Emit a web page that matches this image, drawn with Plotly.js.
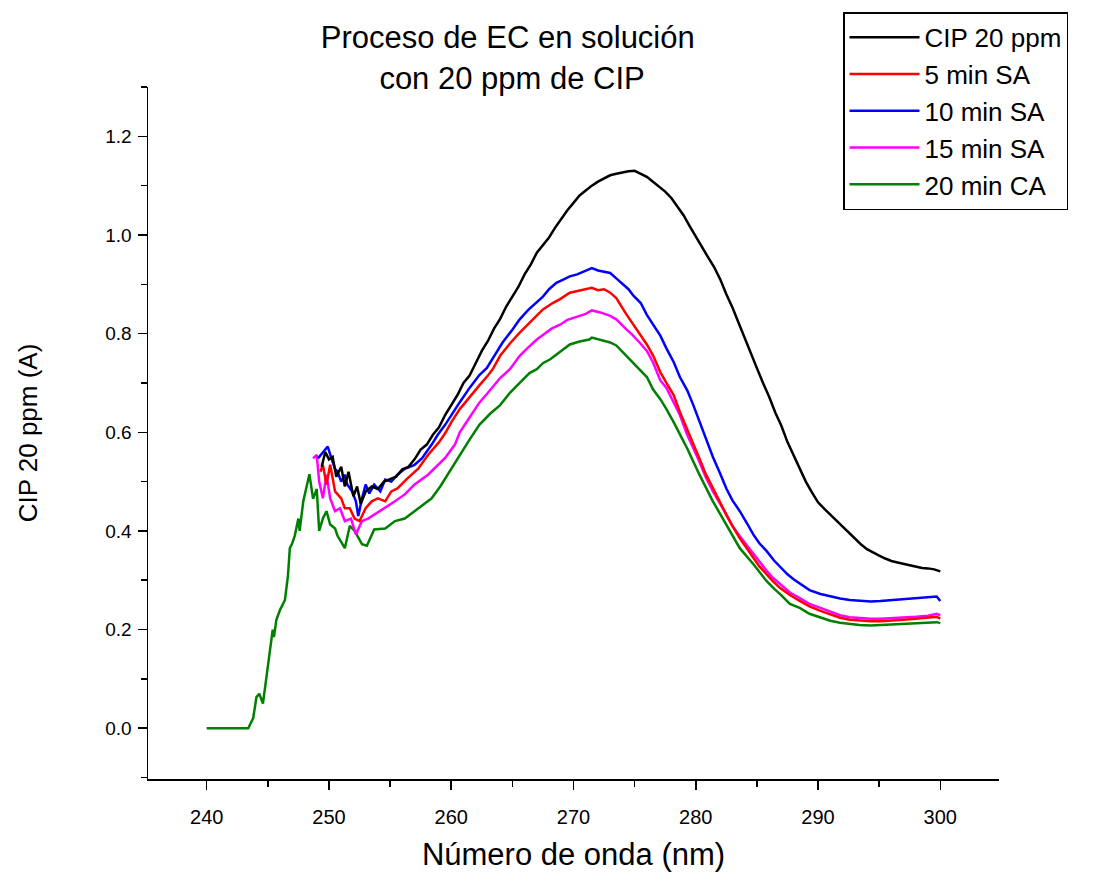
<!DOCTYPE html>
<html>
<head>
<meta charset="utf-8">
<script src="https://cdn.plot.ly/plotly-3.0.1.min.js"></script>
<style>html,body{margin:0;padding:0;background:#fff;}#chart{width:1116px;height:879px;}</style>
</head>
<body>
<div id="chart"></div>
<script>
// Series names
const seriesNames = ["CIP 20 ppm", "5 min SA", "10 min SA", "15 min SA", "20 min CA"];

// CIP 20 ppm (black)
const wlCIP = [249.4,249.7,250.0,250.3,250.6,251.0,251.3,251.6,252.0,252.3,252.6,253.0,253.5,254.0,254.5,255.0,255.5,256.0,256.5,257.0,257.5,258.0,258.5,259.0,259.5,260.0,260.5,261.0,261.5,262.0,262.5,263.0,263.5,264.0,264.5,265.0,265.5,266.0,266.5,267.0,267.5,268.0,268.5,269.0,269.5,270.0,270.5,271.0,271.5,272.0,272.5,273.0,273.5,274.0,274.5,275.0,275.5,276.0,276.5,277.0,277.5,278.0,278.5,279.0,279.5,280.0,280.5,281.0,281.5,282.0,282.5,283.0,283.5,284.0,284.5,285.0,285.5,286.0,286.5,287.0,287.5,288.0,288.5,289.0,289.5,290.0,290.5,291.0,291.5,292.0,292.5,293.0,293.5,294.0,294.5,295.0,295.5,296.0,296.5,297.0,297.5,298.0,298.5,299.0,299.5,300.0];
const absCIP = [0.53,0.56,0.545,0.55,0.51,0.53,0.49,0.52,0.47,0.49,0.455,0.48,0.49,0.485,0.50,0.505,0.51,0.525,0.53,0.545,0.565,0.575,0.595,0.61,0.635,0.655,0.675,0.70,0.715,0.74,0.765,0.785,0.81,0.83,0.855,0.875,0.895,0.92,0.94,0.964,0.98,0.995,1.015,1.033,1.05,1.065,1.08,1.09,1.10,1.108,1.115,1.121,1.124,1.127,1.129,1.13,1.124,1.118,1.108,1.098,1.088,1.075,1.058,1.04,1.018,0.996,0.976,0.955,0.935,0.91,0.88,0.853,0.822,0.79,0.76,0.73,0.70,0.672,0.64,0.613,0.58,0.553,0.526,0.50,0.478,0.458,0.445,0.433,0.42,0.408,0.395,0.384,0.373,0.363,0.356,0.35,0.344,0.339,0.336,0.333,0.33,0.327,0.325,0.324,0.322,0.318];

// 5 min SA (red)
const wl5 = [249.3,249.5,249.8,250.1,250.5,251.0,251.3,251.7,252.1,252.5,253.0,253.5,254.0,254.6,255.1,255.6,256.4,257.3,258.1,259.0,259.5,260.0,260.7,261.5,262.3,263.0,263.4,264.0,264.8,265.6,266.5,267.5,268.3,268.9,269.7,270.5,271.0,271.5,272.0,272.5,273.0,273.5,274.3,274.8,275.4,276.0,276.5,277.1,277.6,278.2,278.7,279.3,279.8,280.3,280.8,281.4,282.0,282.5,283.0,283.6,284.2,284.7,285.2,285.8,286.3,286.9,287.7,288.5,289.3,290.2,291.0,291.8,292.6,293.4,294.3,295.1,296.0,297.0,298.0,299.0,299.7,300.0];
const abs5 = [0.52,0.534,0.494,0.534,0.48,0.466,0.446,0.446,0.425,0.42,0.446,0.46,0.466,0.46,0.48,0.486,0.506,0.526,0.554,0.58,0.598,0.62,0.647,0.672,0.695,0.715,0.728,0.755,0.78,0.802,0.825,0.849,0.862,0.87,0.883,0.887,0.89,0.893,0.888,0.89,0.883,0.872,0.84,0.822,0.802,0.778,0.756,0.722,0.70,0.675,0.641,0.607,0.578,0.547,0.516,0.486,0.458,0.433,0.41,0.385,0.364,0.345,0.328,0.312,0.298,0.284,0.27,0.258,0.247,0.238,0.231,0.224,0.22,0.218,0.217,0.217,0.218,0.22,0.222,0.224,0.226,0.222];

// 10 min SA (blue)
const wl10 = [249.1,249.5,249.9,250.2,250.5,250.7,251.0,251.3,251.5,251.9,252.2,252.4,252.7,253.0,253.3,253.7,254.2,254.6,255.1,255.6,256.2,257.0,257.6,258.4,258.9,259.5,260.0,260.7,261.5,262.3,262.9,263.5,264.2,265.0,265.6,266.3,267.0,267.5,268.0,268.6,269.2,269.7,270.3,270.8,271.5,272.0,272.5,273.0,273.5,274.0,274.5,274.9,275.5,276.0,276.5,277.1,277.6,278.2,278.7,279.3,279.8,280.3,280.8,281.4,282.0,282.5,283.0,283.6,284.2,284.7,285.2,285.8,286.4,286.9,287.5,288.0,288.5,289.3,290.2,291.0,291.8,292.6,293.4,294.3,295.1,296.0,297.0,298.0,299.0,299.7,300.0];
const abs10 = [0.547,0.56,0.571,0.547,0.526,0.52,0.50,0.514,0.494,0.48,0.46,0.43,0.466,0.494,0.476,0.494,0.48,0.504,0.50,0.514,0.526,0.534,0.547,0.575,0.595,0.615,0.635,0.661,0.69,0.716,0.73,0.755,0.782,0.808,0.829,0.848,0.863,0.875,0.89,0.903,0.91,0.916,0.92,0.925,0.933,0.928,0.926,0.923,0.912,0.90,0.89,0.877,0.862,0.838,0.82,0.796,0.77,0.742,0.712,0.685,0.655,0.622,0.592,0.55,0.516,0.486,0.462,0.44,0.415,0.393,0.375,0.359,0.34,0.327,0.312,0.302,0.294,0.28,0.272,0.267,0.263,0.26,0.258,0.257,0.258,0.26,0.262,0.264,0.266,0.267,0.258];

// 15 min SA (magenta)
const wl15 = [248.7,249.0,249.2,249.5,249.8,250.1,250.5,250.9,251.3,251.8,252.2,252.7,253.2,253.7,254.6,255.4,256.2,257.0,258.1,259.0,259.5,260.3,260.7,261.5,262.3,263.0,264.0,264.8,265.6,266.3,267.0,267.5,268.2,268.9,269.5,270.5,271.0,271.5,272.2,273.0,273.5,274.3,274.8,275.4,276.0,276.5,277.1,277.6,278.2,278.7,279.3,279.8,280.3,280.8,281.4,282.0,282.5,283.0,283.6,284.2,284.7,285.2,285.8,286.3,286.9,287.7,288.5,289.3,290.2,291.0,291.8,292.6,293.4,294.3,295.1,296.0,297.0,298.0,299.0,299.7,300.0];
const abs15 = [0.547,0.554,0.50,0.466,0.514,0.466,0.44,0.446,0.42,0.425,0.393,0.42,0.425,0.433,0.446,0.46,0.474,0.494,0.514,0.535,0.548,0.575,0.60,0.63,0.66,0.68,0.71,0.728,0.755,0.772,0.788,0.797,0.81,0.818,0.828,0.836,0.84,0.847,0.843,0.836,0.829,0.809,0.798,0.782,0.765,0.742,0.705,0.69,0.661,0.635,0.595,0.568,0.54,0.51,0.48,0.455,0.433,0.41,0.389,0.37,0.353,0.336,0.319,0.305,0.292,0.275,0.264,0.252,0.244,0.236,0.229,0.225,0.223,0.222,0.222,0.223,0.224,0.226,0.228,0.232,0.229];

// 20 min CA (green)
const wl20 = [240.0,241.0,242.0,243.0,243.4,243.6,243.8,244.07,244.3,244.6,244.9,245.1,245.3,245.4,245.5,245.7,246.0,246.4,246.65,246.8,247.0,247.2,247.5,247.6,247.9,248.2,248.4,248.7,249.0,249.2,249.5,249.8,250.1,250.5,250.7,251.3,251.7,252.1,252.7,253.1,253.7,254.6,255.4,256.2,257.3,258.4,259.1,259.6,260.3,260.7,261.5,262.3,263.2,264.0,264.8,265.6,266.4,267.0,267.5,268.1,269.2,269.7,270.5,271.3,271.5,272.2,273.0,273.5,274.3,275.4,276.0,276.5,277.1,277.6,278.2,279.3,280.3,281.4,282.5,283.6,284.7,285.8,286.4,286.9,287.7,288.5,289.3,290.2,291.0,291.8,292.6,293.4,294.3,295.1,296.0,297.0,298.0,299.0,299.7,300.0];
const abs20 = [0,0,0,0,0,0.01,0.02,0.063,0.07,0.05,0.11,0.15,0.18,0.20,0.185,0.22,0.24,0.26,0.31,0.365,0.375,0.39,0.425,0.40,0.46,0.49,0.515,0.465,0.485,0.40,0.425,0.44,0.413,0.405,0.39,0.365,0.41,0.40,0.373,0.37,0.403,0.405,0.42,0.425,0.446,0.466,0.49,0.51,0.536,0.554,0.585,0.615,0.638,0.655,0.68,0.70,0.72,0.728,0.74,0.748,0.768,0.778,0.784,0.788,0.792,0.788,0.782,0.776,0.756,0.728,0.712,0.687,0.667,0.647,0.62,0.567,0.514,0.46,0.413,0.365,0.333,0.298,0.283,0.272,0.252,0.244,0.232,0.224,0.218,0.214,0.211,0.209,0.208,0.209,0.21,0.212,0.213,0.214,0.215,0.213];

const seriesX = [wlCIP, wl5, wl10, wl15, wl20];
const seriesY = [absCIP, abs5, abs10, abs15, abs20];
const seriesColors = ["#000000", "#ff0000", "#0000ff", "#ff00ff", "#008000"];

const traces = seriesNames.map((n, i) => ({
  type: "scatter", mode: "lines", name: n,
  x: seriesX[i], y: seriesY[i],
  line: {color: seriesColors[i], width: 2.5, shape: "linear"}
}));
const drawOrder = [4, 3, 1, 2, 0];
const data = drawOrder.map(i => Object.assign({}, traces[i], {legendrank: i + 1}));

const fontFam = "Liberation Sans, Arial, sans-serif";
const layout = {
  width: 1116, height: 879,
  margin: {l: 148, r: 117, t: 83, b: 100},
  paper_bgcolor: "#ffffff", plot_bgcolor: "#ffffff",
  font: {family: fontFam, color: "#000", size: 18},
  title: {
    text: "Proceso de EC en solución<br> con 20 ppm de CIP",
    x: 0.455, xanchor: "center", y: 0.945, yanchor: "top", yref: "container",
    font: {family: fontFam, size: 31, color: "#000"}
  },
  xaxis: {
    range: [235.2, 304.8], showgrid: false, zeroline: false,
    showline: true, linecolor: "#000", linewidth: 1.5,
    ticks: "outside", ticklen: 9, tickwidth: 1.5, tickcolor: "#000",
    dtick: 10, tick0: 240,
    minor: {dtick: 5, ticks: "outside", ticklen: 6, tickwidth: 1.5, tickcolor: "#000", showgrid: false},
    tickfont: {family: "Liberation Sans Narrow, Arial Narrow, " + fontFam, size: 20, color: "#000"},
    ticklabelstandoff: 10,
    title: {text: "Número de onda (nm)", font: {family: fontFam, size: 31, color: "#000"}, standoff: 17}
  },
  yaxis: {
    range: [-0.103, 1.3], showgrid: false, zeroline: false,
    showline: true, linecolor: "#000", linewidth: 1.5,
    ticks: "outside", ticklen: 9, tickwidth: 1.5, tickcolor: "#000",
    dtick: 0.2, tick0: 0, tickformat: ".1f",
    minor: {dtick: 0.1, ticks: "outside", ticklen: 6, tickwidth: 1.5, tickcolor: "#000", showgrid: false},
    tickfont: {family: fontFam, size: 19, color: "#000"},
    ticklabelstandoff: 2,
    title: {text: "CIP 20 ppm (A)", font: {family: fontFam, size: 26, color: "#000"}, standoff: 60}
  },
  legend: {
    x: 0.8167, xanchor: "left", y: 1.108, yanchor: "top",
    bordercolor: "#000", borderwidth: 1.5, bgcolor: "#fff",
    font: {family: fontFam, size: 26, color: "#000"},
    itemwidth: 70, tracegroupgap: 0, traceorder: "normal"
  },
  showlegend: true
};

Plotly.newPlot("chart", data, layout, {displayModeBar: false, staticPlot: true});
</script>
</body>
</html>
